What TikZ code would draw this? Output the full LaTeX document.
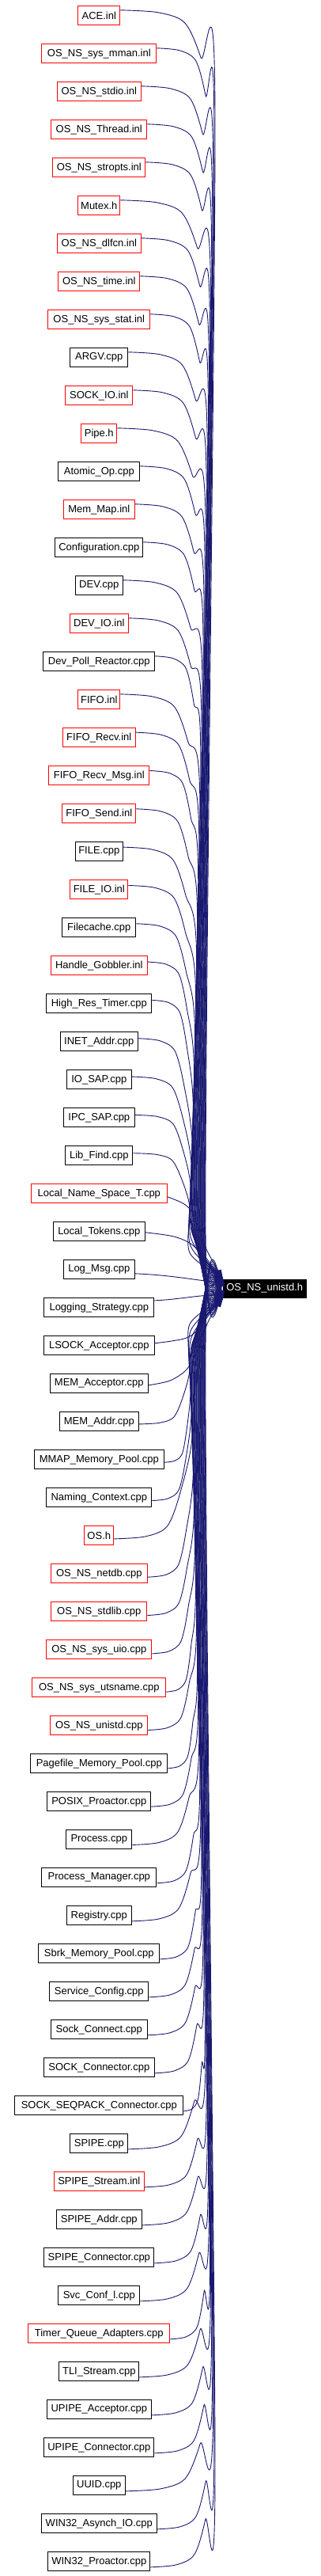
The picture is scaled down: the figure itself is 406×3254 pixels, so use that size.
\documentclass[tikz,border=0pt]{standalone}
\usepackage{fontspec}
\setmainfont{Liberation Sans}
\usetikzlibrary{arrows.meta}
\definecolor{edgeblue}{RGB}{25,25,112}
\begin{document}
\begin{tikzpicture}[x=1pt,y=-1pt,
  box/.style={draw, line width=1pt, inner sep=0pt, minimum height=24pt,
    font=\fontsize{13}{15}\selectfont, text=black},
  edge/.style={draw=edgeblue, line width=0.9pt, -{Triangle[length=10pt,width=7.5pt]}}]
\useasboundingbox[fill=white] (0,0) rectangle (406,3254);
\node[fill=black, draw=black, line width=0.5pt, minimum width=105.5pt, minimum height=23pt,
  inner sep=0pt, text=white, font=\fontsize{13}{15}\selectfont] (t) at (334.7,1627.5) {OS\_NS\_unistd.h};
\foreach \i/\W/\c/\t in {
1/54/red/ACE.inl,
2/146/red/OS\_NS\_sys\_mman.inl,
3/107/red/OS\_NS\_stdio.inl,
4/122/red/OS\_NS\_Thread.inl,
5/118/red/OS\_NS\_stropts.inl,
6/54/red/Mutex.h,
7/107/red/OS\_NS\_dlfcn.inl,
8/104/red/OS\_NS\_time.inl,
9/130/red/OS\_NS\_sys\_stat.inl,
10/74/black/ARGV.cpp,
11/86/red/SOCK\_IO.inl,
12/46/red/Pipe.h,
13/104/black/Atomic\_Op.cpp,
14/91/red/Mem\_Map.inl,
15/112/black/Configuration.cpp,
16/61/black/DEV.cpp,
17/75/red/DEV\_IO.inl,
18/142/black/Dev\_Poll\_Reactor.cpp,
19/54/red/FIFO.inl,
20/93/red/FIFO\_Recv.inl,
21/128/red/FIFO\_Recv\_Msg.inl,
22/94/red/FIFO\_Send.inl,
23/61/black/FILE.cpp,
24/74/red/FILE\_IO.inl,
25/94/black/Filecache.cpp,
26/123/red/Handle\_Gobbler.inl,
27/134/black/High\_Res\_Timer.cpp,
28/99/black/INET\_Addr.cpp,
29/83/black/IO\_SAP.cpp,
30/91/black/IPC\_SAP.cpp,
31/86/black/Lib\_Find.cpp,
32/173/red/Local\_Name\_Space\_T.cpp,
33/117/black/Local\_Tokens.cpp,
34/91/black/Log\_Msg.cpp,
35/140/black/Logging\_Strategy.cpp,
36/141/black/LSOCK\_Acceptor.cpp,
37/125/black/MEM\_Acceptor.cpp,
38/101/black/MEM\_Addr.cpp,
39/165/black/MMAP\_Memory\_Pool.cpp,
40/134/black/Naming\_Context.cpp,
41/38/red/OS.h,
42/123/red/OS\_NS\_netdb.cpp,
43/122/red/OS\_NS\_stdlib.cpp,
44/134/red/OS\_NS\_sys\_uio.cpp,
45/170/red/OS\_NS\_sys\_utsname.cpp,
46/124/red/OS\_NS\_unistd.cpp,
47/174/black/Pagefile\_Memory\_Pool.cpp,
48/132/black/POSIX\_Proactor.cpp,
49/84/black/Process.cpp,
50/146/black/Process\_Manager.cpp,
51/83/black/Registry.cpp,
52/154/black/Sbrk\_Memory\_Pool.cpp,
53/126/black/Service\_Config.cpp,
54/123/black/Sock\_Connect.cpp,
55/141/black/SOCK\_Connector.cpp,
56/214/black/SOCK\_SEQPACK\_Connector.cpp,
57/74/black/SPIPE.cpp,
58/115/red/SPIPE\_Stream.inl,
59/109/black/SPIPE\_Addr.cpp,
60/140/black/SPIPE\_Connector.cpp,
61/104/black/Svc\_Conf\_l.cpp,
62/180/red/Timer\_Queue\_Adapters.cpp,
63/102/black/TLI\_Stream.cpp,
64/133/black/UPIPE\_Acceptor.cpp,
65/140/black/UPIPE\_Connector.cpp,
66/67/black/UUID.cpp,
67/147/black/WIN32\_Asynch\_IO.cpp,
68/130/black/WIN32\_Proactor.cpp}{
  \pgfmathsetmacro\yc{19.8+48*(\i-1)}
  \pgfmathsetmacro\mw{\W-1}
  \node[box, draw=\c, minimum width=\mw pt] (n\i) at (125.3,\yc) {\t};
  \pgfmathtruncatemacro\near{and(\i>31,\i<38)}
  \ifnum\near=1
    \ifcase\numexpr\i-32\relax
      \draw[edge] plot[smooth,tension=0.5] coordinates {([yshift=-4pt]n32.east) (233,1521) (245,1535) (262,1580) ([yshift=13.5pt]t.west)};
    \or
      \draw[edge] plot[smooth,tension=0.5] coordinates {([yshift=-1pt]n33.east) (220,1562) (244,1573) (262,1596) ([yshift=11pt]t.west)};
    \or
      \draw[edge] ([yshift=-5pt]n34.east) .. controls (220,1611) and (245,1617) .. ([yshift=7.5pt]t.west);
    \or
      \draw[edge] ([yshift=9pt]n35.east) .. controls (220,1642) and (245,1637) .. ([yshift=-7.5pt]t.west);
    \or
      \draw[edge] plot[smooth,tension=0.5] coordinates {([yshift=3pt]n36.east) (233,1691) (250,1680) (265,1657) ([yshift=-11pt]t.west)};
    \or
      \draw[edge] plot[smooth,tension=0.5] coordinates {([yshift=-2pt]n37.east) (215,1744) (236,1730) (250,1705) (264,1668) ([yshift=-13.5pt]t.west)};
    \fi
  \else
    \pgfmathsetmacro\d{1627.5-\yc}
    \pgfmathsetmacro\s{(\d>0)?1:-1}
    \pgfmathsetmacro\ad{abs(\d)}
    \pgfmathsetmacro\r{125.3+\W/2}
    \pgfmathsetmacro\off{min(7,3+(\ad-150)/150)}
    \pgfmathsetmacro\sh{\s*\off}
    \pgfmathsetmacro\eh{\s*13.5}
    \pgfmathsetmacro\ys{\yc-\s*\off}
    \pgfmathsetmacro\ye{1627.5-\s*13.5}
    \pgfmathsetmacro\L{abs(\ye-\ys)}
    \pgfmathsetmacro\f{(\ad-168)/1440}
    \pgfmathsetmacro\Xu{240+32*\f}
    \pgfmathsetmacro\Xl{240+20*\f}
    \pgfmathsetmacro\g{\Xu-\r}
    \pgfmathsetmacro\sc{min(1,\L/300)}
    \pgfmathsetmacro\ax{\r+0.4*\g}
    \pgfmathsetmacro\ay{\ys+\s*3*\sc}
    \pgfmathsetmacro\bx{\r+0.68*\g}
    \pgfmathsetmacro\by{\ys+\s*16*\sc}
    \pgfmathsetmacro\cx{\r+0.85*\g}
    \pgfmathsetmacro\cy{\ys+\s*60*\sc}
    \pgfmathsetmacro\dy{\ys+\s*130*\sc}
    \pgfmathsetmacro\fy{\ye-\s*60*\sc}
    \draw[edge] plot[smooth,tension=0.5] coordinates {([yshift=\sh pt]n\i.east) (\ax,\ay) (\bx,\by) (\cx,\cy) (\Xu,\dy) (\Xl,\fy) ([yshift=\eh pt]t.west)};
  \fi
}
\end{tikzpicture}
\end{document}
